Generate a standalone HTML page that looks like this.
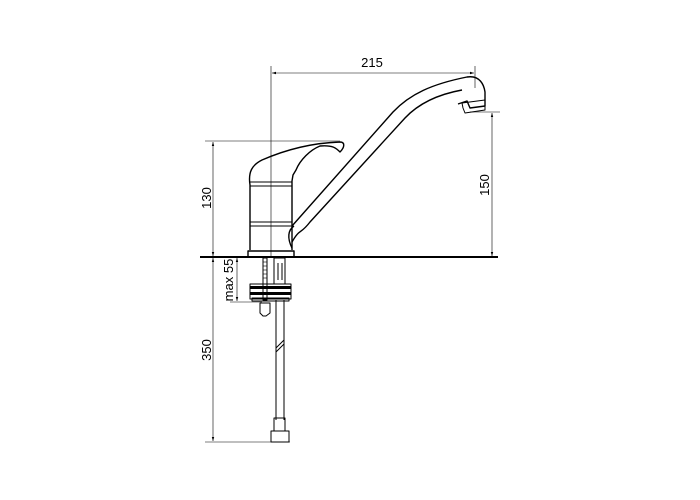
<!DOCTYPE html>
<html><head><style>body{margin:0;background:#fff}svg{display:block}text{font-family:"Liberation Sans",sans-serif;font-size:13px;fill:#000}</style></head><body>
<svg width="700" height="500" viewBox="0 0 700 500" xmlns="http://www.w3.org/2000/svg">
<defs><marker id="a" viewBox="0 0 10 10" refX="10" refY="5" markerWidth="7" markerHeight="7" orient="auto-start-reverse"><path d="M0,2 L10,5 L0,8z" fill="#000"/></marker></defs>
<g stroke="#000" fill="none" stroke-width="0.6">
<line x1="271" y1="66" x2="271" y2="258"/>
<line x1="475" y1="66" x2="475" y2="88"/>
<line x1="205" y1="141" x2="340" y2="141"/>
<line x1="470" y1="112" x2="500" y2="112"/>
<line x1="205" y1="442" x2="290" y2="442"/>
<line x1="230" y1="302" x2="262" y2="302"/>
<line x1="272" y1="73" x2="474" y2="73" marker-start="url(#a)" marker-end="url(#a)"/>
<line x1="213" y1="142" x2="213" y2="256" marker-start="url(#a)" marker-end="url(#a)"/>
<line x1="492" y1="113" x2="492" y2="256" marker-start="url(#a)" marker-end="url(#a)"/>
<line x1="213" y1="258" x2="213" y2="441" marker-start="url(#a)" marker-end="url(#a)"/>
<line x1="237" y1="258" x2="237" y2="301" marker-start="url(#a)" marker-end="url(#a)"/>
</g>
<text x="372" y="67" text-anchor="middle">215</text>
<text transform="translate(211,198) rotate(-90)" text-anchor="middle">130</text>
<text transform="translate(489,185) rotate(-90)" text-anchor="middle">150</text>
<text transform="translate(211,350) rotate(-90)" text-anchor="middle">350</text>
<text transform="translate(233,280) rotate(-90)" text-anchor="middle">max 55</text>
<g stroke="#000" fill="none" stroke-width="1.4" stroke-linejoin="round">
<line x1="200" y1="257" x2="498" y2="257" stroke-width="2"/>
<path d="M292,242 C300,228 300,235 310,222 L405,118 C420,102 440,94 462,90"/>
<path d="M292,226 L393,112 C410,94 432,84 467,77 C480,75 484,85 485,92 L485,106 L470,108 L467,101 L458,104"/>
<path d="M463,108 L462,103 L485,100 L485,110 L465,113 Z" stroke-width="1"/>
<path d="M292,248 C287,238 288,230 294,226"/>
<path d="M250,250 L250,185 C248,172 252,165 262,160 C285,150 310,143 340,142 C345,142 345,147 340,152 C336,148 333,145 320,146 C310,150 300,160 296,170 L293,175 L292,181 L292,250"/>
<path d="M250,182 L292,182 M250,186 L292,186" stroke-width="1"/>
<path d="M250,222 L292,222 M250,226 L292,226" stroke-width="1"/>
<path d="M248,256 L248,251 L294,251 L294,256"/>
<rect x="274" y="258" width="11" height="26" stroke-width="1"/>
<line x1="278" y1="263" x2="278" y2="280" stroke-width="1"/>
<line x1="282" y1="263" x2="282" y2="280" stroke-width="1"/>
<rect x="263" y="258" width="4" height="42" stroke-width="1"/>
<line x1="276" y1="300" x2="276" y2="420" stroke-width="1"/>
<line x1="284" y1="300" x2="284" y2="420" stroke-width="1"/>
<line x1="276" y1="348" x2="284" y2="340" stroke-width="1"/>
<line x1="276" y1="352" x2="284" y2="344" stroke-width="1"/>
<rect x="250" y="284" width="41" height="15" stroke-width="1"/>
<rect x="252" y="298" width="37" height="3" stroke-width="1"/>
<path d="M260,303 L270,303 L270,313 L266,316 L263,316 L260,313 Z" stroke-width="1"/>
<rect x="274" y="418" width="11" height="13" stroke-width="1"/>
<rect x="271" y="431" width="18" height="11" stroke-width="1"/>
</g>
<rect x="250" y="286" width="41" height="3" fill="#000"/>
<rect x="250" y="292" width="41" height="3" fill="#000"/>
<g stroke="#000" stroke-width="0.6">
<line x1="263" y1="262" x2="267" y2="262"/><line x1="263" y1="266" x2="267" y2="266"/><line x1="263" y1="270" x2="267" y2="270"/><line x1="263" y1="274" x2="267" y2="274"/><line x1="263" y1="278" x2="267" y2="278"/>
</g>
</svg>
</body></html>
